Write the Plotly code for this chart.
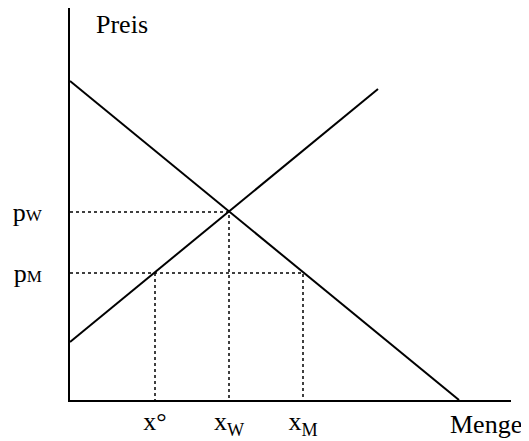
import plotly.graph_objects as go

# Demand and supply lines (quantity, price)
demand_x = [0, 389]
demand_y = [319, 0]
supply_x = [0, 308]
supply_y = [58, 311]

# Key levels
p_w = 188   # equilibrium price
p_m = 127   # lower price
x_deg = 85  # x°
x_w = 159   # x_W
x_m = 233   # x_M

x_tick_vals = [x_deg, x_w, x_m]
x_tick_text = ["x°", "x<sub>W</sub>", "x<sub>M</sub>"]
y_tick_vals = [p_m, p_w]
y_tick_text = ["p<span style='font-size:17px'>M</span>", "p<span style='font-size:17px'>W</span>"]

x_max = 441
y_max = 392

FONT = "Liberation Serif"
FS = 26
dot = dict(color="black", width=1.5, dash="dot")
solid = dict(color="black", width=2)

fig = go.Figure()
fig.add_trace(go.Scatter(x=demand_x, y=demand_y, mode="lines", line=solid, hoverinfo="skip"))
fig.add_trace(go.Scatter(x=supply_x, y=supply_y, mode="lines", line=solid, hoverinfo="skip"))

# dotted guide lines
fig.add_trace(go.Scatter(x=[0, x_w, x_w], y=[p_w, p_w, 0], mode="lines", line=dot, hoverinfo="skip"))
fig.add_trace(go.Scatter(x=[0, x_m, x_m], y=[p_m, p_m, 0], mode="lines", line=dot, hoverinfo="skip"))
fig.add_trace(go.Scatter(x=[x_deg, x_deg], y=[p_m, 0], mode="lines", line=dot, hoverinfo="skip"))

fig.update_layout(
    width=521, height=433,
    margin=dict(l=62, r=18, t=0, b=41, pad=0),
    paper_bgcolor="white", plot_bgcolor="white",
    showlegend=False,
    font=dict(family=FONT, size=FS, color="black"),
    xaxis=dict(range=[0, x_max], showgrid=False, zeroline=False, automargin=False,
               showline=True, linecolor="black", linewidth=2,
               tickvals=x_tick_vals, ticktext=x_tick_text, ticks="",
               ticklabelstandoff=-3,
               tickfont=dict(family=FONT, size=FS, color="black")),
    yaxis=dict(range=[0, y_max], showgrid=False, zeroline=False, automargin=False,
               showline=True, linecolor="black", linewidth=2,
               tickvals=y_tick_vals, ticktext=y_tick_text, ticks="",
               ticklabelstandoff=21,
               tickfont=dict(family=FONT, size=FS, color="black")),
    annotations=[
        dict(x=52, y=376, xref="x", yref="y", text="Preis", showarrow=False,
             font=dict(family=FONT, size=FS, color="black")),
        dict(x=416, y=0, xref="x", yref="y", yshift=-24, text="Menge", showarrow=False,
             font=dict(family=FONT, size=FS, color="black")),
    ],
)

fig.write_html("out.html")
